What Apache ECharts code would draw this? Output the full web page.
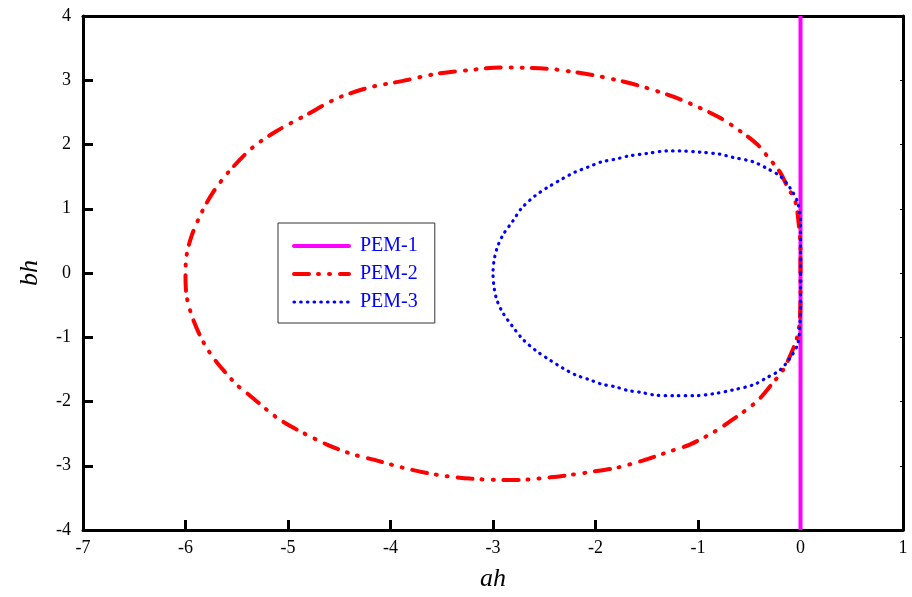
<!DOCTYPE html>
<html>
<head>
<meta charset="utf-8">
<script src="https://cdn.jsdelivr.net/npm/echarts@6/dist/echarts.min.js"></script>
<style>html,body{margin:0;padding:0;background:#fff}#c{width:912px;height:597px}</style>
</head>
<body>
<div id="c"></div>
<script>
var seriesNames = ['PEM-1', 'PEM-2', 'PEM-3'];
var xTicks = [-7, -6, -5, -4, -3, -2, -1, 0, 1];
var yTicks = [-4, -3, -2, -1, 0, 1, 2, 3, 4];

var pem1Ah = [0, 0];
var pem1Bh = [-4, 4];

var pem2Ah = [0.00, 0.00, -0.02, -0.05, -0.13, -0.20, -0.33, -0.42, -0.59, -0.79,
  -1.08, -1.27, -1.54, -1.73, -1.99, -2.18, -2.47, -2.93, -3.22, -3.55,
  -3.88, -4.20, -4.52, -4.81, -5.11, -5.34, -5.57, -5.73, -5.84, -5.94,
  -5.99, -6.00, -5.99, -5.94, -5.86, -5.78, -5.69, -5.50, -5.37, -5.11,
  -4.91, -4.62, -4.37, -4.13, -3.88, -3.55, -3.22, -2.93, -2.74, -2.44,
  -2.28, -2.02, -1.79, -1.54, -1.30, -1.08, -0.85, -0.66, -0.42, -0.27,
  -0.17, -0.07, -0.02, 0.00, 0.00];
var pem2Bh = [0.00, 0.38, 0.80, 1.11, 1.35, 1.57, 1.83, 2.00, 2.21, 2.42,
  2.64, 2.76, 2.90, 2.98, 3.07, 3.12, 3.18, 3.20, 3.16, 3.10,
  2.99, 2.89, 2.72, 2.47, 2.21, 1.96, 1.59, 1.26, 0.95, 0.58,
  0.27, 0.00, -0.35, -0.66, -0.97, -1.20, -1.40, -1.74, -1.91, -2.25,
  -2.44, -2.67, -2.82, -2.92, -3.03, -3.14, -3.20, -3.22, -3.22, -3.18,
  -3.15, -3.09, -3.03, -2.92, -2.79, -2.67, -2.48, -2.28, -1.99, -1.71,
  -1.51, -1.17, -0.91, -0.44, 0.00];

var pem3Ah = [0.00, 0.00, 0.00, -0.03, -0.10, -0.20, -0.33, -0.46, -0.66, -0.79, -0.98,
  -1.18, -1.30, -1.50, -1.68, -1.81, -1.94, -2.07, -2.20, -2.33, -2.46,
  -2.59, -2.72, -2.81, -2.90, -2.96, -2.99, -3.00, -2.99, -2.96, -2.90,
  -2.81, -2.71, -2.58, -2.45, -2.32, -2.19, -2.06, -1.94, -1.81, -1.68,
  -1.55, -1.42, -1.23, -1.04, -0.85, -0.66, -0.46, -0.33, -0.20, -0.10,
  -0.03, -0.01, 0.00, 0.00];
var pem3Bh = [0.00, 0.40, 0.80, 1.11, 1.32, 1.51, 1.63, 1.73, 1.80, 1.85, 1.88,
  1.90, 1.90, 1.86, 1.82, 1.77, 1.73, 1.65, 1.57, 1.46, 1.34,
  1.20, 1.01, 0.80, 0.60, 0.39, 0.19, 0.00, -0.22, -0.43, -0.63,
  -0.83, -1.03, -1.21, -1.35, -1.48, -1.59, -1.66, -1.73, -1.77, -1.83,
  -1.86, -1.90, -1.91, -1.91, -1.88, -1.82, -1.74, -1.63, -1.51, -1.32,
  -1.12, -0.91, -0.44, 0.00];

function zip(a, b) { return a.map(function (v, i) { return [v, b[i]]; }); }

var font = '"Liberation Serif", "Times New Roman", serif';
var chart = echarts.init(document.getElementById('c'), null, { renderer: 'canvas' });

var axisLineStyle = { color: '#000', width: 3 };

chart.setOption({
  animation: false,
  backgroundColor: '#fff',
  grid: { left: 83, right: 9, top: 16, bottom: 64, containLabel: false },
  legend: {
    orient: 'vertical',
    left: 278, top: 223,
    padding: [13, 17, 11, 14],
    itemWidth: 55, itemHeight: 14, itemGap: 8,
    borderColor: '#333', borderWidth: 1,
    backgroundColor: '#fff',
    data: seriesNames,
    itemStyle: { opacity: 0 },
    lineStyle: { width: 'inherit', type: 'inherit', cap: 'round' },
    textStyle: { fontFamily: font, fontSize: 20, color: '#0000ff', padding: [0, 0, 0, 6] }
  },
  xAxis: [{
    type: 'value', min: xTicks[0], max: xTicks[xTicks.length - 1], interval: 1,
    name: 'ah', nameLocation: 'middle', nameGap: 36,
    nameTextStyle: { fontFamily: font, fontSize: 26, fontStyle: 'italic', color: '#000' },
    axisLine: { show: true, onZero: false, lineStyle: axisLineStyle },
    axisTick: { show: true, inside: true, length: 10, lineStyle: { color: '#000', width: 3 } },
    axisLabel: { fontFamily: font, fontSize: 18, color: '#000', margin: 9 },
    splitLine: { show: false }
  }, {
    type: 'value', position: 'top', min: xTicks[0], max: xTicks[xTicks.length - 1], interval: 1,
    axisLine: { show: true, onZero: false, lineStyle: axisLineStyle },
    axisTick: { show: false }, axisLabel: { show: false }, splitLine: { show: false }
  }],
  yAxis: [{
    type: 'value', min: yTicks[0], max: yTicks[yTicks.length - 1], interval: 1,
    name: 'bh', nameLocation: 'middle', nameGap: 40, nameRotate: 90,
    nameTextStyle: { fontFamily: font, fontSize: 26, fontStyle: 'italic', color: '#000' },
    axisLine: { show: true, onZero: false, lineStyle: axisLineStyle },
    axisTick: { show: true, inside: true, length: 10, lineStyle: { color: '#000', width: 3 } },
    axisLabel: { fontFamily: font, fontSize: 18, color: '#000', margin: 12 },
    splitLine: { show: false }
  }, {
    type: 'value', position: 'right', min: yTicks[0], max: yTicks[yTicks.length - 1], interval: 1,
    axisLine: { show: true, onZero: false, lineStyle: axisLineStyle },
    axisTick: { show: true, inside: true, length: 3, lineStyle: { color: '#000', width: 1 } },
    axisLabel: { show: false }, splitLine: { show: false }
  }],
  series: [{
    name: seriesNames[0], type: 'line', symbol: 'none',
    data: zip(pem1Ah, pem1Bh),
    lineStyle: { color: '#ff00ff', width: 4, type: 'solid' },
    itemStyle: { color: '#ff00ff' }
  }, {
    name: seriesNames[1], type: 'line', symbol: 'none', smooth: 0.3,
    data: zip(pem2Ah, pem2Bh),
    lineStyle: { color: '#ff0000', width: 4, type: [15, 9, 1, 10, 1, 10], cap: 'round' },
    itemStyle: { color: '#ff0000' }
  }, {
    name: seriesNames[2], type: 'line', symbol: 'none', smooth: 0.3,
    data: zip(pem3Ah, pem3Bh),
    lineStyle: { color: '#0000ff', width: 3.2, type: [0.5, 6.2], cap: 'round' },
    itemStyle: { color: '#0000ff' }
  }]
});
</script>
</body>
</html>
